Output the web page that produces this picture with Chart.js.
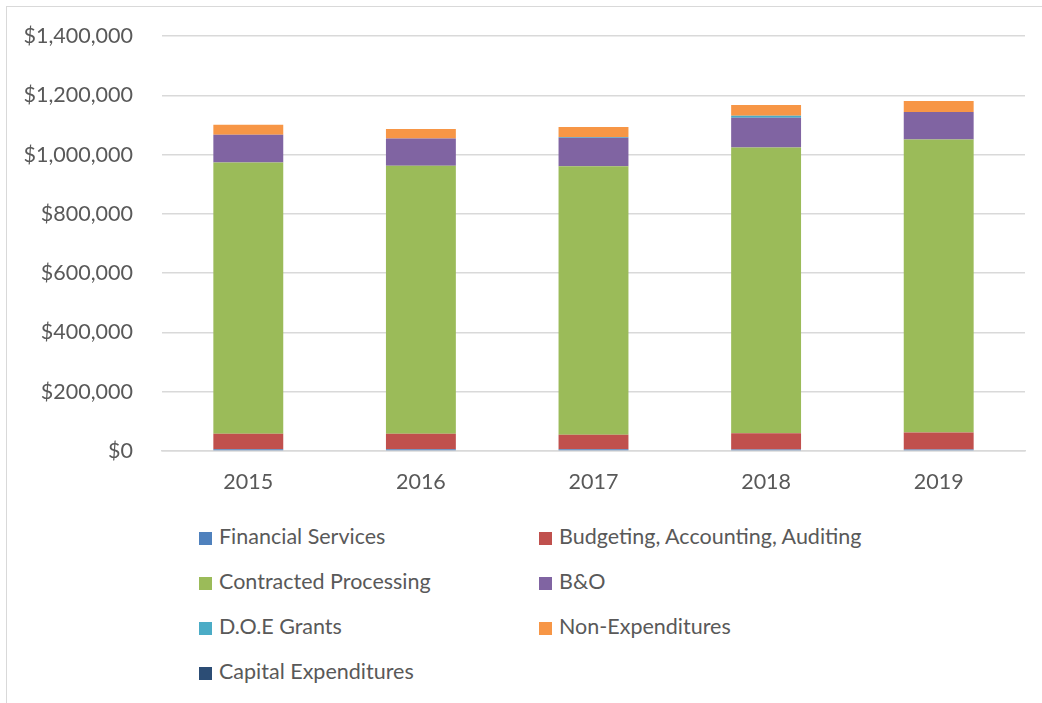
<!DOCTYPE html>
<html>
<head>
<meta charset="utf-8">
<script src="https://cdn.jsdelivr.net/npm/chart.js@4"></script>
<style>
  body { margin: 0; background: #fff; font-family: Lato, "Open Sans", sans-serif; }
  #marco { position: absolute; left: 6px; top: 6px; width: 1040px; height: 700px;
           border-left: 1.5px solid #d9d9d9; border-top: 1.5px solid #d9d9d9; }
  #grafica { position: absolute; left: 0; top: 0; }
  .item { position: absolute; font-size: 21.5px; color: #595959; line-height: 26px; white-space: nowrap; }
  .item span { display: inline-block; width: 13px; height: 13px; margin-right: 7px; vertical-align: -1px; }
</style>
</head>
<body>
<div id="marco"></div>
<canvas id="grafica" width="1042" height="500"></canvas>
<div id="leyenda"></div>
<script>
const anios = ["2015", "2016", "2017", "2018", "2019"]
const financialServices = [6000, 6000, 6000, 5000, 5000]
const budgeting = [52000, 52000, 49000, 55000, 57000]
const contracted = [915000, 904000, 906000, 964000, 989000]
const byo = [94000, 92000, 96000, 100000, 93000]
const doeGrants = [0, 0, 2000, 7000, 0]
const nonExpenditures = [34000, 32000, 34000, 36000, 37000]
const capital = [0, 0, 0, 0, 0]

const series = [
  { label: "Financial Services", data: financialServices, color: "#4f81bd" },
  { label: "Budgeting, Accounting, Auditing", data: budgeting, color: "#c0504d" },
  { label: "Contracted Processing", data: contracted, color: "#9bbb59" },
  { label: "B&O", data: byo, color: "#8064a2" },
  { label: "D.O.E Grants", data: doeGrants, color: "#4bacc6" },
  { label: "Non-Expenditures", data: nonExpenditures, color: "#f79646" },
  { label: "Capital Expenditures", data: capital, color: "#2c4d75" }
]

const fuente = { family: "Lato, 'Open Sans', sans-serif", size: 21.5 }

const grafDOM = document.querySelector("#grafica")
const miGraf = new Chart(grafDOM, {
  type: "bar",
  data: {
    labels: anios,
    datasets: series.map(s => ({
      label: s.label,
      data: s.data,
      backgroundColor: s.color,
      borderWidth: 0,
      barPercentage: 1,
      categoryPercentage: 0.405
    }))
  },
  options: {
    responsive: false,
    animation: false,
    layout: { padding: { top: 36, right: 17, left: 0, bottom: 0 } },
    plugins: { legend: { display: false }, tooltip: { enabled: false } },
    scales: {
      x: {
        stacked: true,
        grid: { display: false, drawTicks: false },
        border: { color: "#d9d9d9", width: 1.5 },
        ticks: { color: "#595959", font: fuente, padding: 18 },
        afterFit: (scale) => { scale.height = 49 }
      },
      y: {
        stacked: true,
        min: 0,
        max: 1400000,
        grid: { color: "#d9d9d9", lineWidth: 1.5, drawTicks: false },
        border: { display: false },
        ticks: {
          stepSize: 200000,
          color: "#595959",
          font: fuente,
          padding: 29,
          callback: (v) => "$" + v.toLocaleString("en-US")
        },
        afterFit: (scale) => {
          scale.width = 162
          // el padding de los ticks no debe empujar el area hacia abajo
          scale.paddingTop = 0
          scale.paddingBottom = 0
        }
      }
    }
  }
})

// leyenda en dos columnas
const leyenda = document.querySelector("#leyenda")
let template = ""
series.forEach((s, i) => {
  const x = i % 2 == 0 ? 199 : 539
  const y = 523 + Math.floor(i / 2) * 45
  template += `<div class="item" style="left:${x}px;top:${y}px"><span style="background:${s.color}"></span>${s.label}</div>`
})
leyenda.innerHTML = template
</script>
</body>
</html>
